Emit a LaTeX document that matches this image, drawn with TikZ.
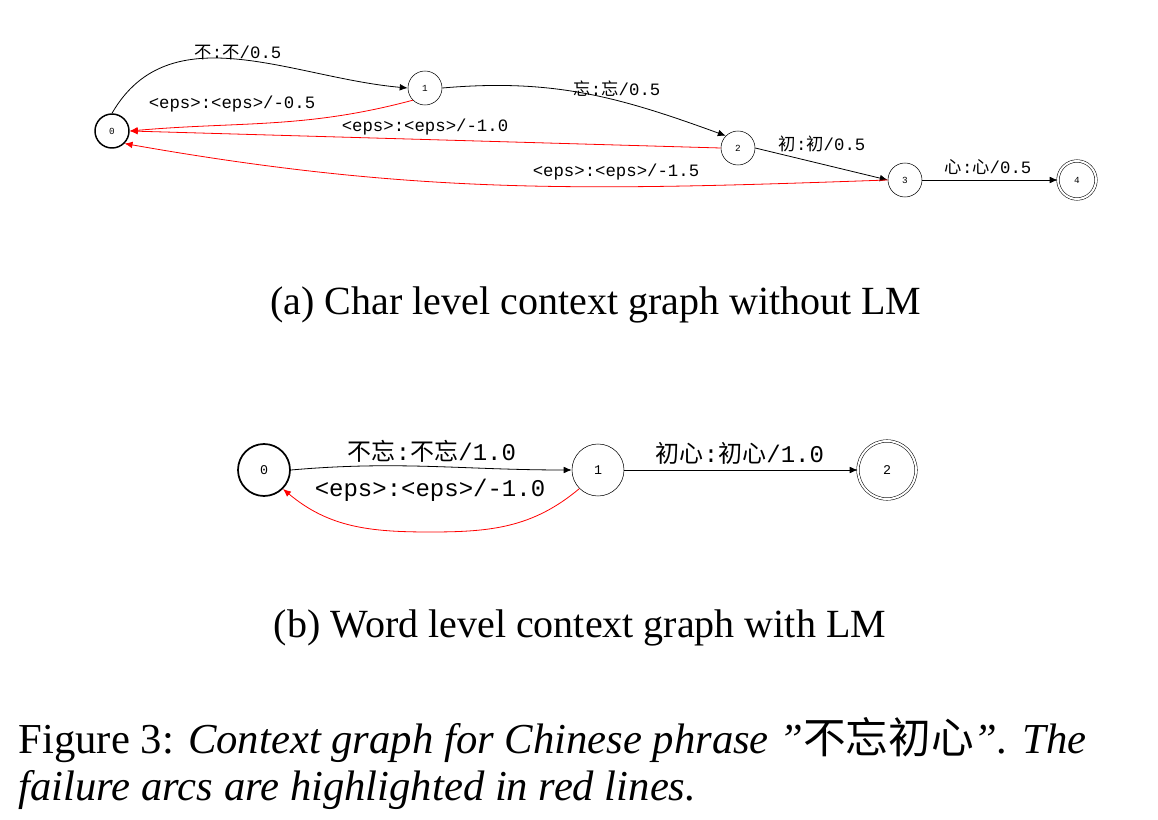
\documentclass[tikz,border=0pt]{standalone}
\usepackage{fontspec}
\setmainfont{Liberation Serif}
\setmonofont{Liberation Mono}
\newfontfamily\cjk{Noto Sans CJK SC}
\usetikzlibrary{arrows.meta}
\newcommand{\lab}[1]{{\ttfamily #1}}
\begin{document}
\begin{tikzpicture}[x=0.75pt,y=-0.75pt,
  st/.style={circle,draw,minimum size=#1*0.75pt,inner sep=0pt,font=\fontsize{7}{8}\selectfont\ttfamily},
  fin/.style={circle,draw,double,double distance=1.5pt,minimum size=#1*0.75pt,inner sep=0pt,font=\fontsize{7}{8}\selectfont\ttfamily},
  ar/.style={-{Latex[length=6pt,width=5pt]},line width=0.6pt},
  fa/.style={ar,red},
  la/.style={font=\fontsize{13}{15}\selectfont,inner sep=1pt},
  lb/.style={font=\fontsize{18}{20}\selectfont,inner sep=1pt},
  captxt/.style={font=\fontsize{30}{34}\selectfont}]
\useasboundingbox (0,0) rectangle (1158,820);
% (a)
\node[st=34,line width=1.1pt] (a0) at (112,131) {0};
\node[st=34] (a1) at (425,88) {1};
\node[st=34] (a2) at (738,148) {2};
\node[st=34] (a3) at (905,180) {3};
\node[fin=38] (a4) at (1077,180) {4};
\draw[ar] (a0.north) to[out=60,in=175] (a1.west);
\draw[fa] (a1.south west) to[out=195,in=5] (a0.east);
\draw[ar] (a1.east) to[out=5,in=160] (a2.north west);
\draw[fa] (a2.west) -- (a0.east);
\draw[ar] (a2.east) -- (a3.west);
\draw[fa] (a3.west) to[out=182,in=-10] (a0.south east);
\draw[ar] (a3.east) -- (a4.west);
\node[la] (l1) at (238,53) {{\cjk 不}\lab{:}{\cjk 不}\lab{/0.5}};
\node[la] (l2) at (232,104) {\lab{<eps>:<eps>/-0.5}};
\node[la] (l3) at (617,89) {{\cjk 忘}\lab{:}{\cjk 忘}\lab{/0.5}};
\node[la] (l4) at (425,127) {\lab{<eps>:<eps>/-1.0}};
\node[la] (l5) at (822,144) {{\cjk 初}\lab{:}{\cjk 初}\lab{/0.5}};
\node[la] (l6) at (616,172) {\lab{<eps>:<eps>/-1.5}};
\node[la] (l7) at (988,167) {{\cjk 心}\lab{:}{\cjk 心}\lab{/0.5}};
\node[captxt] (ca) at (596,305) {(a)\ Char level context graph without LM};
% (b)
\node[st=52,line width=1.3pt,font=\fontsize{10}{12}\selectfont\ttfamily] (b0) at (264,470) {0};
\node[st=52,font=\fontsize{10}{12}\selectfont\ttfamily] (b1) at (598,470) {1};
\node[fin=58,font=\fontsize{10}{12}\selectfont\ttfamily] (b2) at (887,470) {2};
\draw[ar] (b0.east) to[out=5,in=180] (b1.west);
\coordinate (bm) at (430,532);
\draw[fa] (b1.south west) to[out=220,in=0] (bm) to[out=180,in=-40] (b0.south east);
\draw[ar] (b1.east) -- (b2.west);
\node[lb] (m1) at (432,451) {{\cjk 不忘}\lab{:}{\cjk 不忘}\lab{/1.0}};
\node[lb] (m2) at (430,490) {\lab{<eps>:<eps>/-1.0}};
\node[lb] (m3) at (740,453) {{\cjk 初心}\lab{:}{\cjk 初心}\lab{/1.0}};
\node[captxt] (cb) at (580,628) {(b)\ Word level context graph with LM};
\node[captxt,anchor=west,font=\fontsize{32}{36}\selectfont] (f1) at (14,740) {Figure 3: \textit{Context graph for Chinese phrase "}{\cjk 不忘初心}\textit{". The}};
\node[captxt,anchor=west,font=\fontsize{32}{36}\selectfont] (f2) at (14,790) {\textit{failure arcs are highlighted in red lines.}};
\end{tikzpicture}
\end{document}
